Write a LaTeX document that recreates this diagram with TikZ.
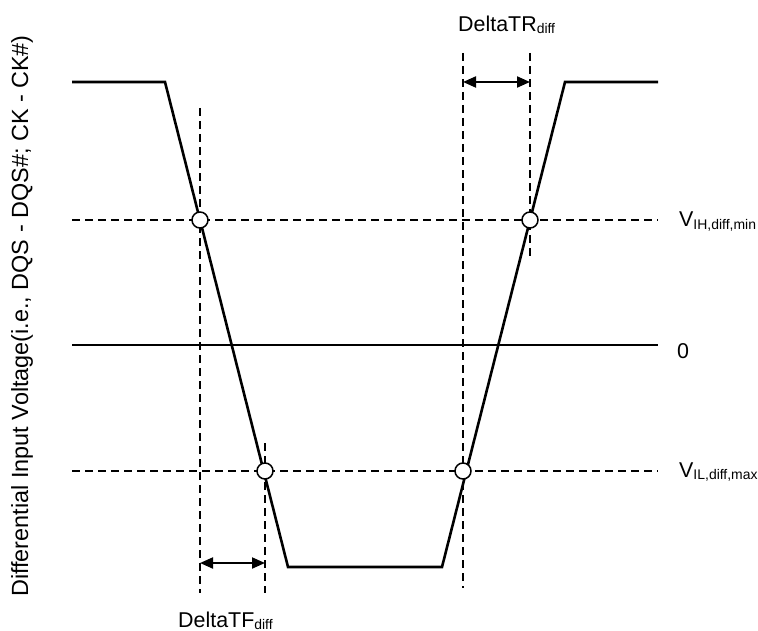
\documentclass[tikz,border=0pt]{standalone}
\usepackage{fontspec}
\setmainfont{Liberation Sans}
\usetikzlibrary{arrows.meta}

\newcommand{\lowsub}[1]{\raisebox{-2bp}{\fontsize{14}{16}\selectfont #1}}

\tikzset{
	wave/.style = {line width=2.6bp, line join=miter},
	guide/.style = {line width=1.6bp, dash pattern=on 8bp off 5bp},
	cross/.style = {circle, draw, fill=white, line width=1.5bp, minimum size=16bp, inner sep=0pt},
	lbl/.style = {font=\fontsize{21.5}{26}\selectfont, inner sep=0pt},
	span/.style = {line width=2bp, {Triangle[length=13bp,width=11bp]}-{Triangle[length=13bp,width=11bp]}}
}

\begin{document}
\begin{tikzpicture}[x=1bp, y=-1bp]
	\useasboundingbox (0,0) rectangle (758,631);
	% corners of the waveform
	\coordinate (hiL) at (72,82);
	\coordinate (fallTop) at (165,82);
	\coordinate (fallBot) at (288,567);
	\coordinate (riseBot) at (442,567);
	\coordinate (riseTop) at (565,82);
	\coordinate (hiR) at (658,82);
	% guide lines
	\draw[guide] (72,220) -- (658,220);
	\draw[wave] (72,345) -- (658,345);
	\draw[guide] (72,471) -- (658,471);
	\draw[guide] (200,108) coordinate (tfA) -- (200,593);
	\draw[guide] (265,443) coordinate (tfB) -- (265,593);
	\draw[guide] (463,53) coordinate (trA) -- (463,588);
	\draw[guide] (530,53) coordinate (trB) -- (530,260);
	\draw[wave] (hiL) -- (fallTop) -- (fallBot) -- (riseBot) -- (riseTop) -- (hiR);
	% crossing points
	\node[cross] (ihFall) at (200,220) {};
	\node[cross] (ilFall) at (265,471) {};
	\node[cross] (ilRise) at (463,471) {};
	\node[cross] (ihRise) at (530,220) {};
	% skew arrows
	\coordinate (tfL) at (200,563);
	\coordinate (tfR) at (265,563);
	\coordinate (trL) at (463,82);
	\coordinate (trR) at (530,82);
	\draw[span] (tfL) -- (tfR);
	\draw[span] (trL) -- (trR);
	% labels
	\node[lbl, anchor=base west] (vih) at (679,227) {V\lowsub{IH,diff,min}};
	\node[lbl, anchor=base west] (zero) at (677,358) {0};
	\node[lbl, anchor=base west] (vil) at (679,477) {V\lowsub{IL,diff,max}};
	\node[lbl, anchor=base west] (dtr) at (458,32) {DeltaTR\lowsub{diff}};
	\node[lbl, anchor=base west] (dtf) at (178,627) {DeltaTF\lowsub{diff}};
	\node[lbl, font=\fontsize{23.5}{28}\selectfont, anchor=base, rotate=90] (axis) at (28,316) {Differential Input Voltage(i.e., DQS - DQS\#; CK - CK\#)};
\end{tikzpicture}
\end{document}
